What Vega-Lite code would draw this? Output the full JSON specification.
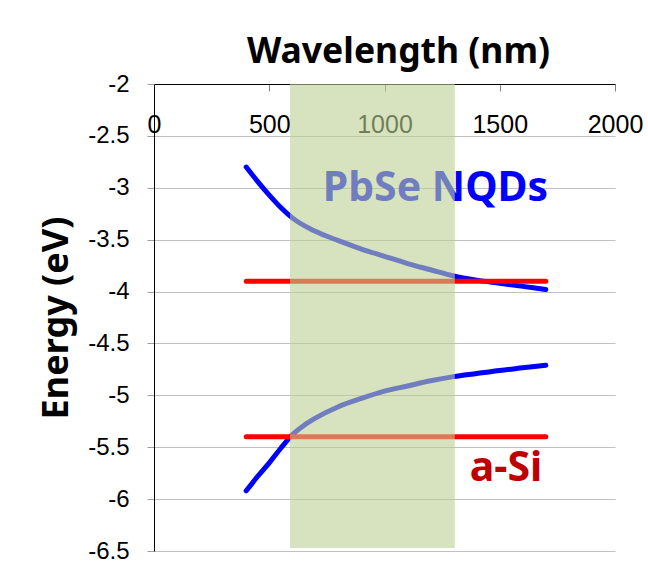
{
  "$schema": "https://vega.github.io/schema/vega-lite/v6.json",
  "width": 461,
  "height": 467,
  "autosize": {"type": "none"},
  "padding": {"left": 154, "top": 84, "right": 33, "bottom": 26},
  "background": "white",
  "config": {"view": {"stroke": null}},
  "datasets": {
    "curves": [
      {"series": "NQD CB", "wl": 400, "e": -2.80},
      {"series": "NQD CB", "wl": 450, "e": -2.94},
      {"series": "NQD CB", "wl": 500, "e": -3.07},
      {"series": "NQD CB", "wl": 550, "e": -3.19},
      {"series": "NQD CB", "wl": 600, "e": -3.29},
      {"series": "NQD CB", "wl": 700, "e": -3.42},
      {"series": "NQD CB", "wl": 800, "e": -3.51},
      {"series": "NQD CB", "wl": 900, "e": -3.59},
      {"series": "NQD CB", "wl": 1000, "e": -3.66},
      {"series": "NQD CB", "wl": 1100, "e": -3.73},
      {"series": "NQD CB", "wl": 1200, "e": -3.79},
      {"series": "NQD CB", "wl": 1300, "e": -3.85},
      {"series": "NQD CB", "wl": 1400, "e": -3.89},
      {"series": "NQD CB", "wl": 1500, "e": -3.92},
      {"series": "NQD CB", "wl": 1600, "e": -3.95},
      {"series": "NQD CB", "wl": 1700, "e": -3.98},
      {"series": "NQD VB", "wl": 400, "e": -5.92},
      {"series": "NQD VB", "wl": 450, "e": -5.78},
      {"series": "NQD VB", "wl": 500, "e": -5.65},
      {"series": "NQD VB", "wl": 550, "e": -5.51},
      {"series": "NQD VB", "wl": 600, "e": -5.38},
      {"series": "NQD VB", "wl": 650, "e": -5.29},
      {"series": "NQD VB", "wl": 700, "e": -5.22},
      {"series": "NQD VB", "wl": 800, "e": -5.11},
      {"series": "NQD VB", "wl": 900, "e": -5.03},
      {"series": "NQD VB", "wl": 1000, "e": -4.96},
      {"series": "NQD VB", "wl": 1100, "e": -4.91},
      {"series": "NQD VB", "wl": 1200, "e": -4.86},
      {"series": "NQD VB", "wl": 1300, "e": -4.82},
      {"series": "NQD VB", "wl": 1400, "e": -4.79},
      {"series": "NQD VB", "wl": 1500, "e": -4.76},
      {"series": "NQD VB", "wl": 1600, "e": -4.735},
      {"series": "NQD VB", "wl": 1700, "e": -4.71},
      {"series": "a-Si CB", "wl": 400, "e": -3.9},
      {"series": "a-Si CB", "wl": 1700, "e": -3.9},
      {"series": "a-Si VB", "wl": 400, "e": -5.4},
      {"series": "a-Si VB", "wl": 1700, "e": -5.4}
    ],
    "labels": [
      {"label": "PbSe NQDs", "wl": 1221, "e": -3.127},
      {"label": "a-Si", "wl": 1527, "e": -5.83}
    ],
    "band": [
      {"start": 590, "end": 1305, "top": -2, "bottom": -6.47}
    ]
  },
  "resolve": {"scale": {"color": "independent"}},
  "encoding": {
    "x": {
      "type": "quantitative",
      "scale": {"domain": [0, 2000], "nice": false, "zero": false},
      "axis": {
        "orient": "top",
        "values": [0, 500, 1000, 1500, 2000],
        "format": "d",
        "grid": false,
        "domainColor": "black",
        "domainWidth": 1,
        "tickColor": "#808080",
        "tickSize": -7,
        "labelFont": "Liberation Sans",
        "labelFontSize": 25,
        "labelColor": "black",
        "labelBaseline": "alphabetic",
        "labelPadding": -41,
        "labelFlush": false,
        "labelOverlap": false,
        "title": "Wavelength (nm)",
        "titleFont": "Noto Sans",
        "titleFontWeight": "bold",
        "titleFontSize": 35.5,
        "titleColor": "black",
        "titleX": 244,
        "titleY": -22,
        "titleBaseline": "alphabetic",
        "titleAlign": "center"
      }
    },
    "y": {
      "type": "quantitative",
      "scale": {"domain": [-6.5, -2], "nice": false, "zero": false},
      "axis": {
        "orient": "left",
        "values": [-6.5, -6, -5.5, -5, -4.5, -4, -3.5, -3, -2.5, -2],
        "format": ".1~f",
        "labelExpr": "replace(datum.label, '\u2212', '-')",
        "grid": true,
        "gridColor": "#c0c0c0",
        "gridWidth": 1.2,
        "domainColor": "black",
        "domainWidth": 1,
        "tickColor": "#a0a0a0",
        "tickSize": 7,
        "labelPadding": 18,
        "labelFont": "Liberation Sans",
        "labelFontSize": 24,
        "labelColor": "black",
        "labelFlush": false,
        "labelOverlap": false,
        "title": "Energy (eV)",
        "titleFont": "Noto Sans",
        "titleFontWeight": "bold",
        "titleFontSize": 36,
        "titleColor": "black",
        "titleAngle": -90,
        "titleX": -87,
        "titleY": 233.5,
        "titleBaseline": "alphabetic",
        "titleAlign": "center"
      }
    }
  },
  "layer": [
    {
      "data": {"name": "curves"},
      "mark": {"type": "line", "strokeWidth": 5, "strokeCap": "round", "strokeJoin": "round", "interpolate": "monotone"},
      "encoding": {
        "x": {"field": "wl", "type": "quantitative"},
        "y": {"field": "e", "type": "quantitative"},
        "detail": {"field": "series"},
        "color": {
          "field": "series",
          "type": "nominal",
          "scale": {"domain": ["NQD CB", "NQD VB", "a-Si CB", "a-Si VB"], "range": ["#0000ff", "#0000ff", "#ff0000", "#ff0000"]},
          "legend": null
        }
      }
    },
    {
      "data": {"name": "labels"},
      "mark": {"type": "text", "font": "Noto Sans", "fontWeight": "bold", "fontSize": 41, "align": "center", "baseline": "alphabetic"},
      "encoding": {
        "x": {"field": "wl", "type": "quantitative"},
        "y": {"field": "e", "type": "quantitative"},
        "text": {"field": "label"},
        "color": {
          "field": "label",
          "type": "nominal",
          "scale": {"domain": ["PbSe NQDs", "a-Si"], "range": ["#0000ff", "#c00000"]},
          "legend": null
        }
      }
    },
    {
      "data": {"name": "band"},
      "mark": {"type": "rect", "fill": "#bad193", "opacity": 0.6},
      "encoding": {
        "x": {"field": "start", "type": "quantitative"},
        "x2": {"field": "end"},
        "y": {"field": "top", "type": "quantitative"},
        "y2": {"field": "bottom"}
      }
    }
  ]
}
